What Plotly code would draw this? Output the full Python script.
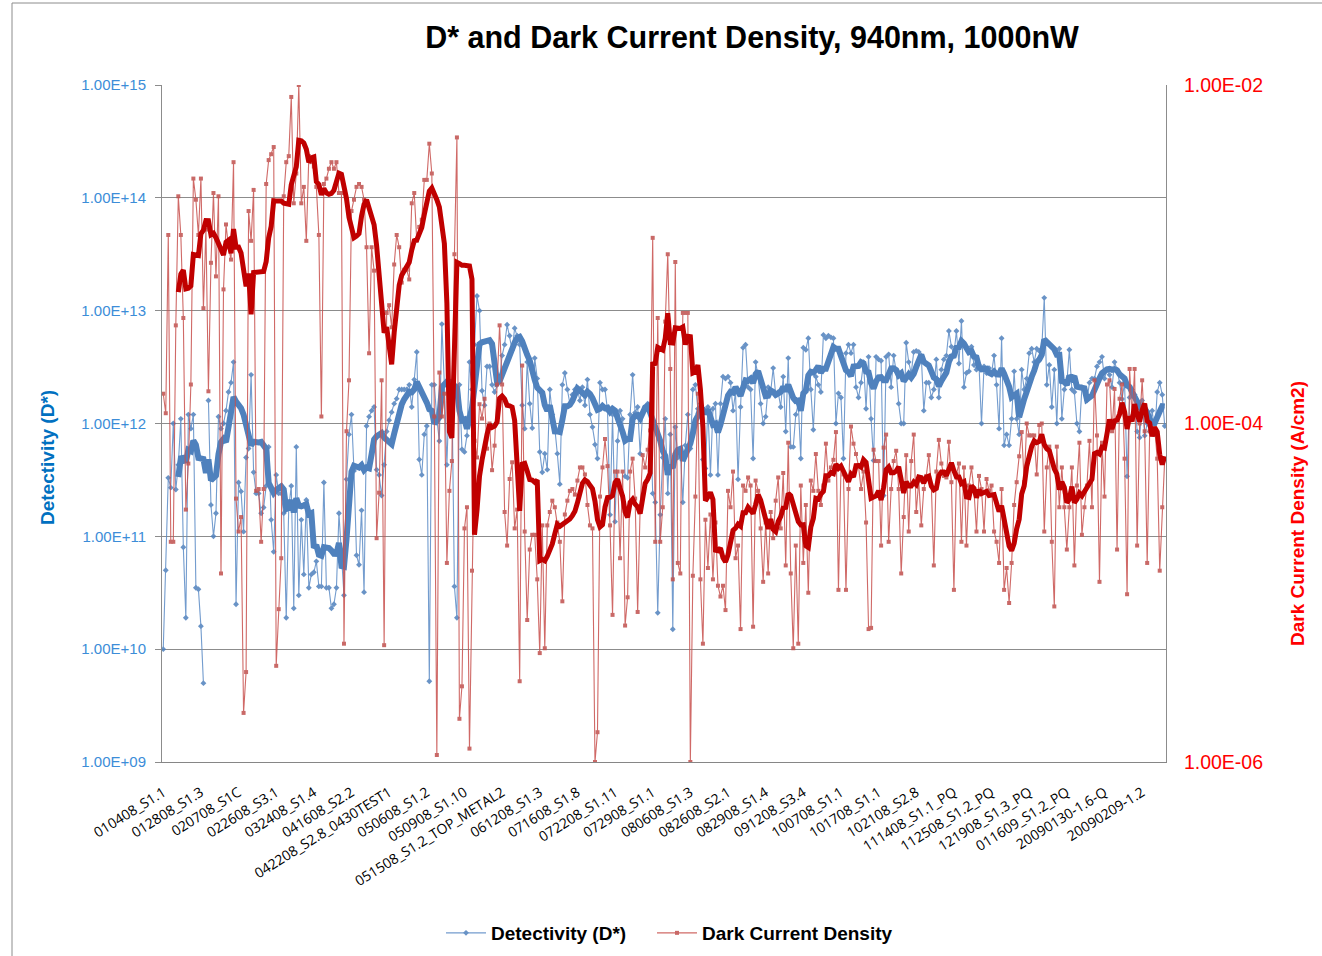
import pandas as pd
import plotly.graph_objects as go

# Category labels shown on the x axis (one every LABEL_STEP samples)
tick_labels = [
    "010408_S1.1", "012808_S1.3", "020708_S1C", "022608_S3.1", "032408_S1.4",
    "041608_S2.2", "042208_S2.8_0430TEST1", "050608_S1.2", "050908_S1.10",
    "051508_S1.2_TOP_METAL2", "061208_S1.3", "071608_S1.8", "072208_S1.11",
    "072908_S1.1", "080608_S1.3", "082608_S2.1", "082908_S1.4", "091208_S3.4",
    "100708_S1.1", "101708_S1.1", "102108_S2.8", "111408_S1.1_PQ",
    "112508_S1.2_PQ", "121908_S1.3_PQ", "011609_S1.2_PQ", "20090130-1.6-Q",
    "20090209-1.2",
]
LABEL_STEP = 15
MA_PERIOD = 7

# Detectivity D* (Jones); None marks a missing measurement
detectivity = [
    1.0e10, 5.0e10, 3.3e11, 2.7e11, 1.0e12, 2.6e11, 4.3e11, 1.1e12, 8.0e10, 1.9e10, 1.2e12, 9.0e11, 1.2e12, 3.5e10, 3.4e10,
    1.6e10, 5.0e9, None, 1.6e12, 1.9e11, 1.0e11, 1.6e11, 1.15e12, 9.0e11, 1.0e12, 1.3e12, 1.9e12, 2.3e12, 3.5e12, 2.5e10,
    3.0e11, 2.5e11, 1.1e11, 5.0e11, 6.0e11, 2.7e12, 3.7e11, 2.4e11, 2.4e11, 1.6e11, 1.8e11, 2.8e11, 6.2e11, 1.4e11, 7.3e10,
    3.5e11, 2.4e11, 2.4e11, 1.6e11, 1.9e10, 1.8e11, 2.8e11, 2.3e10, 6.2e11, 3.0e10, 1.4e11, 4.6e10, 2.1e11, 3.5e10, 4.6e10,
    4.8e10, 6.0e10, 3.6e10, 3.6e10, 3.0e11, 3.5e10, 3.5e10, 2.3e10, 2.5e10, 3.5e10, 1.6e11, 6.8e10, 3.0e10, 3.2e11, 8.0e11,
    1.2e12, 3.8e11, 6.8e10, 5.6e10, 1.7e11, 3.2e10, 9.5e11, 1.15e12, 1.3e12, 1.4e12, 3.9e11, 3.5e11, 2.3e11, 4.3e11, 8.5e11,
    1.07e12, 1.26e12, 1.5e12, 1.66e12, 2.0e12, 2.0e12, 2.0e12, 2.0e12, 2.2e12, 1.4e12, 2.45e12, 4.3e12, 4.8e11, 3.5e11, 8.0e11,
    9.5e11, 5.2e9, 2.2e12, 2.2e12, 1.1e12, 7.0e11, 7.6e12, 2.2e12, 4.3e11, 2.1e12, 2.1e12, 3.6e10, 1.9e10, 2.2e12, 5.9e11,
    5.6e11, 7.8e11, 3.5e12, 2.0e12, 5.0e12, 1.35e13, 1.0e13, 1.95e12, 1.45e12, 3.2e12, 3.2e12, 2.2e12, 1.9e12, 2.2e12, 2.45e12,
    4.0e12, 5.0e12, 7.5e12, 6.0e12, 4.5e12, 7.0e12, 6.0e12, 5.0e12, 1.45e12, 9.0e11, 3.5e12, 1.5e12, 9.1e11, 3.8e12, 2.5e12,
    5.6e11, 3.7e11, 5.4e11, 3.9e11, 2.0e12, 1.2e12, 9.1e11, 5.4e11, 2.9e11, 2.2e12, 2.8e12, 2.0e12, 1.5e12, 1.8e12, 2.0e12,
    2.0e12, 1.6e12, 2.1e12, 1.45e12, 2.45e12, 1.2e12, 9.3e11, 6.5e11, 4.9e11, 2.3e12, 2.0e12, 2.0e12, 1.3e12, 1.55e11, 1.2e12,
    1.35e11, 7.0e11, 1.3e12, 1.1e12, 3.4e11, 3.3e11, 1.2e12, 2.7e12, 1.25e12, 1.4e12, 5.4e11, 1.25e12, 1.4e12, 1.5e12, 1.4e12,
    2.4e11, 2.0e11, 2.1e10, 1.55e11, 5.0e11, 1.1e12, 2.4e11, 8.0e11, 1.5e10, 9.3e11, 5.0e11, 5.9e11, 2.0e11, 6.4e11, 1.2e12,
    6.0e11, 2.0e12, 2.2e12, 1.35e12, 1.5e12, 4.8e11, 4.0e11, 1.4e12, 3.5e11, 1.35e12, 1.5e12, 3.5e11, 1.5e12, 2.6e12, 2.5e12,
    2.6e12, 2.3e12, 1.3e12, 1.9e12, 3.2e11, 1.4e12, 4.7e12, 5.0e12, 2.1e12, 2.0e12, 4.9e11, 3.5e12, 2.6e12, 1.5e12, 1.0e12,
    1.15e12, 2.1e12, 1.9e12, 3.1e12, 1.8e12, 1.9e12, 1.4e12, 2.6e12, 8.5e11, 3.8e12, 6.2e11, 6.2e11, 1.2e12, 1.5e12, 4.9e11,
    4.7e12, 4.5e12, 5.7e12, 2.0e12, 8.8e11, 2.6e12, 2.2e12, 1.9e12, 6.1e12, 5.7e12, 6.0e12, 5.8e12, 5.7e12, 1.0e12, 1.85e12,
    1.7e12, 4.9e11, 4.2e12, 5.0e12, 4.2e12, 5.0e12, 2.1e12, 1.7e12, 2.3e12, 3.5e12, 1.35e12, 3.9e12, 1.1e12, 4.7e11, 3.9e12,
    3.7e12, 3.6e12, 2.3e11, 3.9e12, 4.1e12, 2.1e12, 4.0e12, 2.9e12, 1.5e12, 1.0e12, 1.0e12, 5.2e12, 3.5e12, 2.8e12, 4.3e12,
    4.4e12, 4.3e12, 4.0e12, 1.3e12, 2.3e12, 2.3e12, 1.7e12, 2.0e12, 3.7e12, 1.7e12, 3.0e12, 3.7e12, 4.0e12, 6.6e12, 4.8e12,
    4.1e12, 6.6e12, 3.4e12, 8.1e12, 2.1e12, 2.8e12, 2.9e12, 4.8e12, 3.3e12, 3.0e12, 3.3e12, 1.0e12, 3.2e12, 2.8e12, 3.1e12,
    2.8e12, 4.0e12, 2.2e12, 9.0e11, 5.7e12, 6.4e11, 8.0e11, 6.4e11, 1.1e12, 2.9e12, 1.1e12, 8.0e11, 3.0e12, 2.0e12, 2.5e12,
    4.2e12, 4.6e12, 3.5e12, 4.6e12, 4.4e12, 4.6e12, 1.3e13, 2.2e12, 3.3e12, 1.4e12, 3.0e12, 1.0e12, 4.6e12, 1.1e12, 2.0e12,
    2.3e12, 4.5e12, 2.0e12, 1.9e12, 1.0e12, 8.5e11, 2.1e12, 2.0e12, 1.6e12, 2.3e12, 2.5e12, 2.5e12, 3.2e12, 3.5e12, 3.9e12,
    2.5e12, 3.0e12, 2.7e12, 2.1e12, 3.5e12, 3.0e12, 2.3e12, 1.65e12, 2.3e12, 3.4e11, 1.7e12, 2.0e12, 1.8e12, 8.5e11, 7.5e11,
    1.6e12, 7.8e11, 1.0e12, 8.5e11, 1.3e12, 8.0e11, 1.9e12, 2.3e12, 1.8e12, 9.5e11,
]

# Dark current density (A/cm2)
dark_current = [
    1.5e-4, 1.15e-4, 1.3e-3, 2.0e-5, 2.0e-5, 3.8e-4, 2.2e-3, 1.3e-3, 4.2e-4, 3.1e-5, 5.8e-5, 1.7e-4, 2.8e-3, 2.1e-3, 1.3e-3,
    2.8e-3, 4.8e-4, 1.4e-3, 1.55e-4, 8.9e-4, 2.3e-3, 7.4e-4, 2.2e-3, 1.3e-5, 6.2e-4, 1.5e-3, 1.1e-3, 9.3e-4, 3.5e-3, 3.6e-5,
    2.3e-5, 2.8e-5, 1.95e-6, 3.4e-6, 1.8e-3, 1.2e-3, 2.4e-3, 4.0e-5, 4.1e-5, 2.0e-5, 4.1e-5, 2.6e-3, 3.6e-3, 3.9e-3, 4.3e-3,
    3.7e-6, 8.0e-6, 1.6e-5, 2.2e-3, 3.5e-3, 3.8e-3, 8.5e-3, 2.0e-3, 3.0e-3, 1.0e-2, 2.0e-3, 2.5e-3, 1.2e-3, 3.8e-3, 3.5e-3,
    3.3e-3, 2.5e-3, 1.3e-3, 1.1e-4, 2.6e-3, 2.8e-3, 3.2e-3, 3.5e-3, 3.2e-3, 3.5e-3, 2.3e-3, 2.3e-3, 5.0e-6, 9.0e-5, 1.8e-4,
    1.8e-3, 2.1e-3, 2.5e-3, 2.6e-3, 2.5e-3, 2.1e-3, 1.1e-3, 2.6e-4, 1.1e-3, 8.0e-4, 2.1e-5, 3.9e-5, 1.8e-4, 4.9e-6, 4.5e-4,
    5.0e-4, 3.7e-4, 8.7e-4, 1.3e-3, 1.1e-3, 6.8e-4, 8.1e-4, 8.1e-4, 7.1e-4, 2.0e-3, 2.3e-3, 1.2e-3, 1.45e-3, 1.6e-3, 2.75e-3,
    2.75e-3, 4.5e-3, 3.0e-3, 1.1e-4, 1.1e-6, 2.0e-4, 1.1e-4, 1.5e-4, 1.5e-5, 4.0e-5, 6.0e-5, 1.0e-3, 4.9e-3, 1.8e-6, 2.8e-6,
    2.4e-5, 3.2e-5, 1.2e-6, 1.35e-5, 7.9e-5, 6.3e-5, 1.3e-4, 1.07e-4, 1.4e-4, 7.1e-5, 1.0e-4, 5.3e-5, 7.4e-5, 1.7e-4, 3.8e-4,
    1.7e-4, 3.0e-5, 1.9e-5, 4.7e-5, 5.9e-5, 2.4e-5, 3.1e-5, 3.0e-6, 2.2e-4, 2.3e-5, 6.9e-6, 1.8e-5, 2.2e-5, 2.2e-5, 1.2e-5,
    4.4e-6, 2.5e-5, 4.7e-6, 2.5e-5, 3.0e-5, 3.5e-5, 3.2e-5, 2.6e-5, 2.0e-5, 8.9e-6, 2.9e-5, 3.5e-5, 4.0e-5, 4.1e-5, 3.8e-5,
    4.6e-5, 5.5e-5, 5.5e-5, 5.0e-5, 3.3e-5, 2.5e-5, 2.4e-5, 1.0e-6, 1.5e-6, 3.7e-5, 5.5e-5, 8.1e-5, 5.6e-5, 2.5e-5, 7.4e-6,
    5.2e-5, 5.2e-5, 1.6e-5, 5.2e-5, 6.4e-6, 9.4e-6, 5.2e-5, 6.2e-5, 3.6e-5, 7.7e-6, 3.2e-5, 6.5e-5, 5.5e-5, 7.0e-5, 9.1e-5,
    1.25e-3, 2.0e-5, 4.2e-4, 2.0e-5, 3.2e-5, 4.0e-4, 1.0e-3, 2.1e-4, 1.2e-5, 9.0e-4, 1.5e-5, 1.3e-5, 4.5e-4, 4.5e-4, 4.5e-4,
    1.0e-6, 1.26e-5, 3.7e-5, 1.5e-4, 1.2e-5, 5.0e-6, 2.7e-5, 1.4e-5, 2.9e-5, 1.2e-5, 2.6e-5, 1.1e-5, 9.5e-6, 1.1e-5, 7.9e-6,
    4.0e-5, 3.2e-5, 5.2e-5, 1.6e-5, 1.9e-5, 6.1e-6, 4.3e-5, 4.0e-5, 4.8e-5, 4.3e-5, 6.3e-6, 4.6e-5, 4.0e-5, 2.4e-5, 1.16e-5,
    2.6e-5, 1.3e-5, 3.0e-5, 2.1e-5, 3.5e-5, 4.8e-5, 2.4e-5, 5.1e-5, 1.45e-5, 7.7e-5, 1.3e-5, 4.7e-6, 1.9e-5, 5.0e-6, 4.3e-5,
    1.5e-5, 3.3e-5, 1.0e-5, 4.6e-5, 4.0e-5, 6.6e-5, 4.0e-5, 3.3e-5, 4.3e-5, 7.6e-5, 4.6e-5, 5.5e-5, 6.1e-5, 8.9e-5, 1.04e-5,
    5.5e-5, 5.0e-5, 1.04e-5, 4.1e-5, 9.6e-5, 7.6e-5, 6.6e-5, 5.6e-5, 4.1e-5, 5.2e-5, 2.6e-5, 6.1e-6, 6.2e-6, 7.0e-5, 6.0e-5,
    6.0e-5, 1.9e-5, 7.2e-5, 8.6e-5, 2.0e-5, 4.1e-5, 6.0e-5, 6.9e-5, 4.1e-5, 1.3e-5, 2.8e-5, 6.5e-5, 2.3e-5, 6.0e-5, 8.6e-5,
    3.0e-5, 4.6e-5, 2.5e-5, 4.1e-5, 4.9e-5, 6.5e-5, 4.3e-5, 1.45e-5, 5.2e-5, 8.0e-5, 5.8e-5, 4.9e-5, 4.8e-5, 7.8e-5, 4.5e-5,
    1.04e-5, 5.0e-5, 5.8e-5, 2.0e-5, 5.5e-5, 1.9e-5, 4.3e-5, 5.5e-5, 4.0e-5, 2.3e-5, 4.9e-5, 4.1e-5, 2.3e-5, 4.7e-5, 4.0e-5,
    4.3e-5, 2.3e-5, 2.0e-5, 1.5e-5, 4.1e-5, 1.04e-5, 1.4e-5, 8.7e-6, 1.5e-5, 3.3e-5, 4.5e-5, 6.4e-5, 8.9e-5, 4.5e-5, 1.0e-4,
    8.5e-5, 8.5e-5, 8.5e-5, 5.0e-5, 9.8e-5, 1.0e-4, 2.3e-5, 5.5e-5, 7.3e-5, 2.0e-5, 8.3e-6, 7.3e-5, 3.2e-5, 5.5e-5, 3.2e-5,
    1.8e-5, 3.2e-5, 5.5e-5, 1.45e-5, 4.3e-5, 7.7e-5, 2.2e-5, 3.2e-5, 4.3e-5, 7.9e-5, 3.2e-5, 1.8e-4, 8.5e-5, 1.16e-5, 7.7e-5,
    3.7e-5, 1.7e-4, 1.8e-4, 9.0e-5, 1.6e-4, 1.8e-5, 1.4e-4, 1.7e-4, 6.2e-5, 9.8e-6, 2.1e-4, 1.1e-4, 2.1e-4, 1.9e-5, 1.0e-4,
    1.8e-4, 9.0e-5, 1.5e-5, 9.0e-5, 9.4e-5, 9.4e-5, 6.2e-5, 1.35e-5, 3.2e-5, 6.2e-5,
]

left_ticks = [1e9, 1e10, 1e11, 1e12, 1e13, 1e14, 1e15]
left_tick_text = ["1.00E+09", "1.00E+10", "1.00E+11", "1.00E+12", "1.00E+13", "1.00E+14", "1.00E+15"]
right_ticks = [1e-6, 1e-4, 1e-2]
right_tick_text = ["1.00E-06", "1.00E-04", "1.00E-02"]

BLUE = "#4F81BD"
RED = "#C0504D"
DARK_RED = "#C00000"
FONT = "Liberation Sans, Arial, sans-serif"

idx = list(range(len(detectivity)))


def moving_average(values, period):
    """Trailing moving average of the raw values (blanks skipped)."""
    s = pd.Series(values, dtype="float64")
    ma = s.rolling(period, min_periods=1).mean()
    ma.iloc[: period - 1] = float("nan")
    return ma.tolist()


det_ma = moving_average(detectivity, MA_PERIOD)
dark_ma = moving_average(dark_current, MA_PERIOD)

fig = go.Figure()

fig.add_trace(go.Scatter(
    x=idx, y=detectivity, name="Detectivity (D*)", mode="lines+markers",
    line=dict(color="#5B8BC6", width=1.1), opacity=0.85,
    marker=dict(symbol="diamond", size=4.5, color=BLUE),
    connectgaps=False, yaxis="y", legend="legend",
))
fig.add_trace(go.Scatter(
    x=idx, y=dark_current, name="Dark Current Density", mode="lines+markers",
    line=dict(color="#C8504D", width=1.1), opacity=0.85,
    marker=dict(symbol="square", size=4, color=RED),
    yaxis="y2", legend="legend2",
))
fig.add_trace(go.Scatter(
    x=idx, y=det_ma, mode="lines", showlegend=False, hoverinfo="skip",
    line=dict(color=BLUE, width=6), connectgaps=True, yaxis="y",
))
fig.add_trace(go.Scatter(
    x=idx, y=dark_ma, mode="lines", showlegend=False, hoverinfo="skip",
    line=dict(color=DARK_RED, width=5), connectgaps=True, yaxis="y2",
))

W, H = 1322, 956
L, R, T, B = 162, 1166, 85, 762


def px_x(px):
    return (px - L) / (R - L)


def px_y(py):
    return (B - py) / (B - T)


legend_font = dict(family=FONT, size=19, color="black", weight="bold")

fig.update_layout(
    width=W, height=H,
    margin=dict(l=L, r=W - R, t=T, b=H - B, autoexpand=False),
    paper_bgcolor="white", plot_bgcolor="white",
    title=dict(
        text="<b>D* and Dark Current Density, 940nm, 1000nW</b>",
        x=752 / W, xanchor="center", xref="container",
        y=1 - 37 / H, yanchor="middle", yref="container",
        font=dict(family=FONT, size=30.5, color="black"),
    ),
    xaxis=dict(
        range=[-0.5, len(idx) - 0.5],
        tickmode="array",
        tickvals=[i * LABEL_STEP for i in range(len(tick_labels))],
        ticktext=tick_labels,
        tickangle=-32,
        tickfont=dict(family="Open Sans, sans-serif", size=14, color="black"),
        ticklabelstandoff=16,
        showgrid=False, zeroline=False,
        showline=True, linecolor="#868686", linewidth=1,
        ticks="", automargin=False,
    ),
    yaxis=dict(
        type="log", range=[9, 15],
        tickmode="array", tickvals=left_ticks, ticktext=left_tick_text,
        tickfont=dict(family=FONT, size=15, color="#3C8DD8"),
        showgrid=True, gridcolor="#8C8C8C", gridwidth=1,
        showline=True, linecolor="#8C8C8C",
        ticks="outside", ticklen=6, tickcolor="#8C8C8C",
        ticklabelstandoff=6,
        zeroline=False, automargin=False,
    ),
    yaxis2=dict(
        type="log", range=[-6, -2], overlaying="y", side="right",
        tickmode="array", tickvals=right_ticks, ticktext=right_tick_text,
        tickfont=dict(family=FONT, size=19.5, color="#FF0000"),
        showgrid=False, showline=True, linecolor="#8C8C8C",
        ticks="", ticklabelstandoff=13, zeroline=False, automargin=False,
    ),
    legend=dict(
        orientation="h", x=px_x(441), xanchor="left",
        y=px_y(933), yanchor="middle", itemwidth=40,
        font=legend_font, bgcolor="rgba(0,0,0,0)",
    ),
    legend2=dict(
        orientation="h", x=px_x(652), xanchor="left",
        y=px_y(933), yanchor="middle", itemwidth=40,
        font=legend_font, bgcolor="rgba(0,0,0,0)",
    ),
    annotations=[
        dict(text="<b>Detectivity (D*)</b>", x=px_x(47), y=px_y(458),
             xref="paper", yref="paper", showarrow=False, textangle=-90,
             xanchor="center", yanchor="middle",
             font=dict(family=FONT, size=19, color="#0070C0")),
        dict(text="<b>Dark Current Density (A/cm2)</b>", x=px_x(1297), y=px_y(514),
             xref="paper", yref="paper", showarrow=False, textangle=-90,
             xanchor="center", yanchor="middle",
             font=dict(family=FONT, size=19, color="#FF0000")),
    ],
    shapes=[
        dict(type="rect", xref="paper", yref="paper",
             x0=px_x(12), x1=px_x(1340), y0=px_y(3), y1=px_y(970),
             line=dict(color="#8C8C8C", width=1), fillcolor="rgba(0,0,0,0)", layer="below"),
    ],
)

fig.write_html("out.html")
